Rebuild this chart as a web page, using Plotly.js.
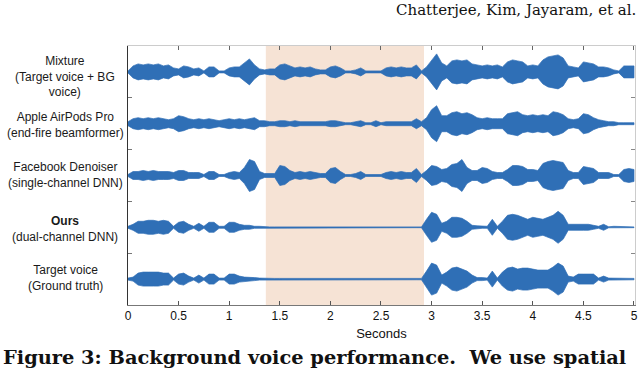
<!DOCTYPE html>
<html>
<head>
<meta charset="utf-8">
<script src="https://cdn.plot.ly/plotly-3.0.1.min.js"></script>
<style>
  html, body { margin: 0; padding: 0; background: #fff; }
  #plot { width: 640px; height: 369px; }
</style>
</head>
<body>
<div id="plot"></div>
<script>
// waveform envelopes (half height), one value every 0.05 s from 0 to 5 s
let step = 0.05;

let mixture = [1, 6, 8, 7, 8, 7, 8, 6, 7, 4,
  3, 6, 5, 3, 4, 1, 5, 5, 1, 1,
  4, 5, 5, 9, 13, 7, 3, 2, 3, 3,
  7, 8, 6, 4, 5, 4, 5, 3, 2, 2,
  5, 6, 4, 1, 1, 2, 4, 1, 1, 1,
  1, 4, 5, 4, 5, 4, 4, 7, 1, 5,
  12, 18, 9, 6, 11, 12, 11, 12, 8, 7,
  6, 7, 6, 7, 5, 10, 12, 11, 10, 6,
  7, 6, 12, 15, 16, 17, 14, 6, 5, 4,
  10, 9, 8, 5, 5, 4, 2, 1, 6, 6, 6];

let airpods = [2, 5, 6, 5, 6, 5, 6, 5, 4, 5,
  8, 7, 5, 4, 5, 4, 5, 4, 3, 4,
  5, 4, 5, 4, 5, 6, 3, 3, 2, 2,
  3, 3, 2, 3, 2, 2, 2, 2, 2, 2,
  3, 3, 2, 1, 1, 2, 3, 1, 1, 3,
  1, 2, 2, 2, 2, 2, 2, 5, 2, 6,
  14, 18, 8, 8, 11, 12, 10, 11, 9, 6,
  5, 6, 5, 5, 5, 10, 11, 12, 9, 8,
  9, 8, 9, 8, 12, 11, 9, 5, 4, 5,
  10, 9, 6, 4, 3, 2, 2, 1, 1, 1, 1];

let facebook = [1, 4, 4, 5, 4, 5, 4, 4, 4, 3,
  5, 5, 3, 3, 3, 1, 4, 4, 1, 1,
  3, 4, 3, 8, 16, 14, 4, 2, 2, 2,
  10, 9, 5, 3, 4, 3, 4, 3, 2, 2,
  7, 8, 4, 1, 1, 2, 4, 1, 1, 1,
  1, 3, 4, 3, 4, 3, 3, 7, 1, 5,
  10, 9, 6, 7, 11, 12, 16, 8, 5, 5,
  8, 7, 4, 3, 3, 6, 10, 10, 9, 6,
  6, 5, 12, 14, 15, 14, 13, 5, 3, 3,
  9, 8, 7, 3, 3, 3, 1, 1, 6, 7, 6];

let ours = [1, 3, 6, 6, 7, 7, 6, 7, 6, 1,
  5, 6, 3, 1, 4, 1, 5, 5, 1, 1,
  5, 5, 3, 2, 2, 1, 1, 0.5, 0.4, 0.4,
  0.4, 0.4, 0.4, 0.4, 0.4, 0.4, 0.4, 0.4, 0.4, 0.4,
  0.4, 0.4, 0.4, 0.4, 0.4, 0.4, 0.4, 0.4, 0.4, 0.4,
  0.4, 0.4, 0.4, 0.4, 0.4, 0.4, 0.4, 0.4, 0.4, 8,
  15, 13, 4, 6, 10, 10, 9, 6, 2, 1.5,
  1, 1, 8, 1, 6, 12, 13, 12, 10, 8,
  10, 9, 8, 10, 12, 16, 12, 3, 3, 3,
  3, 3, 2, 1, 3, 0.5, 1, 1, 0.5, 0.4, 0.4];

let target = [1, 2, 6, 7, 7, 7, 7, 6, 6, 1,
  5, 6, 3, 1, 4, 1, 5, 5, 1, 1,
  5, 5, 3, 2, 2, 1.5, 1, 0.7, 0.7, 0.7,
  0.7, 0.7, 0.7, 0.7, 0.7, 0.7, 0.7, 0.7, 0.7, 0.7,
  0.7, 0.7, 0.7, 0.7, 0.7, 0.7, 0.7, 0.7, 0.7, 0.7,
  0.7, 0.7, 0.7, 0.7, 0.7, 0.7, 0.7, 0.7, 0.7, 8,
  16, 14, 4, 7, 11, 12, 10, 8, 4, 1.5,
  1.5, 1, 8, 1, 7, 11, 12, 10, 11, 11,
  10, 9, 9, 9, 12, 16, 13, 3, 2, 5,
  5, 5, 5, 1, 3, 1, 1, 0.7, 0.7, 0.7, 0.7];

let labels = [
  "Mixture<br>(Target voice + BG<br>voice)",
  "Apple AirPods Pro<br>(end-fire beamformer)",
  "Facebook Denoiser<br>(single-channel DNN)",
  "<b>Ours</b><br>(dual-channel DNN)",
  "Target voice<br>(Ground truth)"
];
let tracks = [mixture, airpods, facebook, ours, target];
let rows = [5, 4, 3, 2, 1];
let labelShift = [-5, -1, 1, -2, 1];

let highlight = [1.362, 2.925];

let blue = "#2f6fb6";
let scale = 1 / 51.8;

let data = tracks.map((env, k) => {
  let t = env.map((v, i) => i * step);
  let up = env.map(v => rows[k] + v * scale);
  let down = env.map(v => rows[k] - v * scale);
  return {
    x: t.concat(t.slice().reverse()),
    y: up.concat(down.reverse()),
    type: "scatter",
    mode: "lines",
    fill: "toself",
    fillcolor: blue,
    line: {color: blue, width: 0.7},
    hoverinfo: "skip",
    showlegend: false
  };
});

let annotations = labels.map((txt, k) => ({
  text: txt,
  xref: "paper", yref: "y",
  x: -0.124, y: rows[k],
  xanchor: "center", yanchor: "middle",
  yshift: labelShift[k],
  showarrow: false,
  font: {family: "Liberation Sans, Arial, sans-serif", size: 12, color: "#1a1a1a"}
}));

annotations.push({
  text: "Chatterjee, Kim, Jayaram, et al.",
  xref: "paper", yref: "paper",
  x: 1.006, y: 1.139, xanchor: "right", yanchor: "middle",
  showarrow: false,
  font: {family: "DejaVu Serif, serif", size: 15, color: "#111"}
});
annotations.push({
  text: "<b>Figure 3: Background voice performance.  We use spatial</b>",
  xref: "paper", yref: "paper",
  x: -0.2505, y: -0.2046, xanchor: "left", yanchor: "middle",
  showarrow: false,
  font: {family: "DejaVu Serif, serif", size: 19.4, color: "#111"}
});

let layout = {
  width: 640,
  height: 369,
  margin: {l: 128, r: 5, t: 46, b: 64},
  paper_bgcolor: "#fff",
  plot_bgcolor: "#fff",
  xaxis: {
    range: [0, 5.01],
    dtick: 0.5,
    tick0: 0,
    ticks: "inside",
    ticklen: 4,
    tickcolor: "#555",
    showline: true,
    linecolor: "#777",
    linewidth: 1,
    showgrid: false,
    zeroline: false,
    tickfont: {family: "Liberation Sans, Arial, sans-serif", size: 12, color: "#111"},
    title: {text: "Seconds", standoff: 6, font: {family: "Liberation Sans, Arial, sans-serif", size: 13, color: "#111"}}
  },
  xaxis2: {
    overlaying: "x",
    side: "top",
    range: [0, 5.01],
    dtick: 0.5,
    tick0: 0,
    ticks: "inside",
    ticklen: 4,
    tickcolor: "#666",
    showline: true,
    linecolor: "#ccc",
    showticklabels: false,
    showgrid: false,
    zeroline: false
  },
  yaxis: {
    range: [0.5, 5.5],
    tickvals: [1.5, 2.5, 3.5, 4.5],
    ticks: "inside",
    ticklen: 4,
    tickcolor: "#777",
    showticklabels: false,
    showline: true,
    linecolor: "#333",
    linewidth: 1,
    showgrid: false,
    zeroline: false
  },
  yaxis2: {
    overlaying: "y",
    side: "right",
    range: [0.5, 5.5],
    tickvals: [1.5, 2.5, 3.5, 4.5],
    ticks: "inside",
    ticklen: 4,
    tickcolor: "#888",
    showticklabels: false,
    showline: true,
    linecolor: "#ccc",
    showgrid: false,
    zeroline: false
  },
  shapes: [{
    type: "rect",
    xref: "x", yref: "paper",
    x0: highlight[0], x1: highlight[1],
    y0: 0, y1: 1,
    fillcolor: "#f6e3d5",
    line: {width: 0},
    layer: "below"
  }],
  annotations: annotations
};

// dummy traces so the mirrored axes get drawn
data.push({x: [0], y: [1], xaxis: "x2", yaxis: "y2", mode: "markers", marker: {opacity: 0}, hoverinfo: "skip", showlegend: false});

Plotly.newPlot("plot", data, layout, {staticPlot: true});
</script>
</body>
</html>
